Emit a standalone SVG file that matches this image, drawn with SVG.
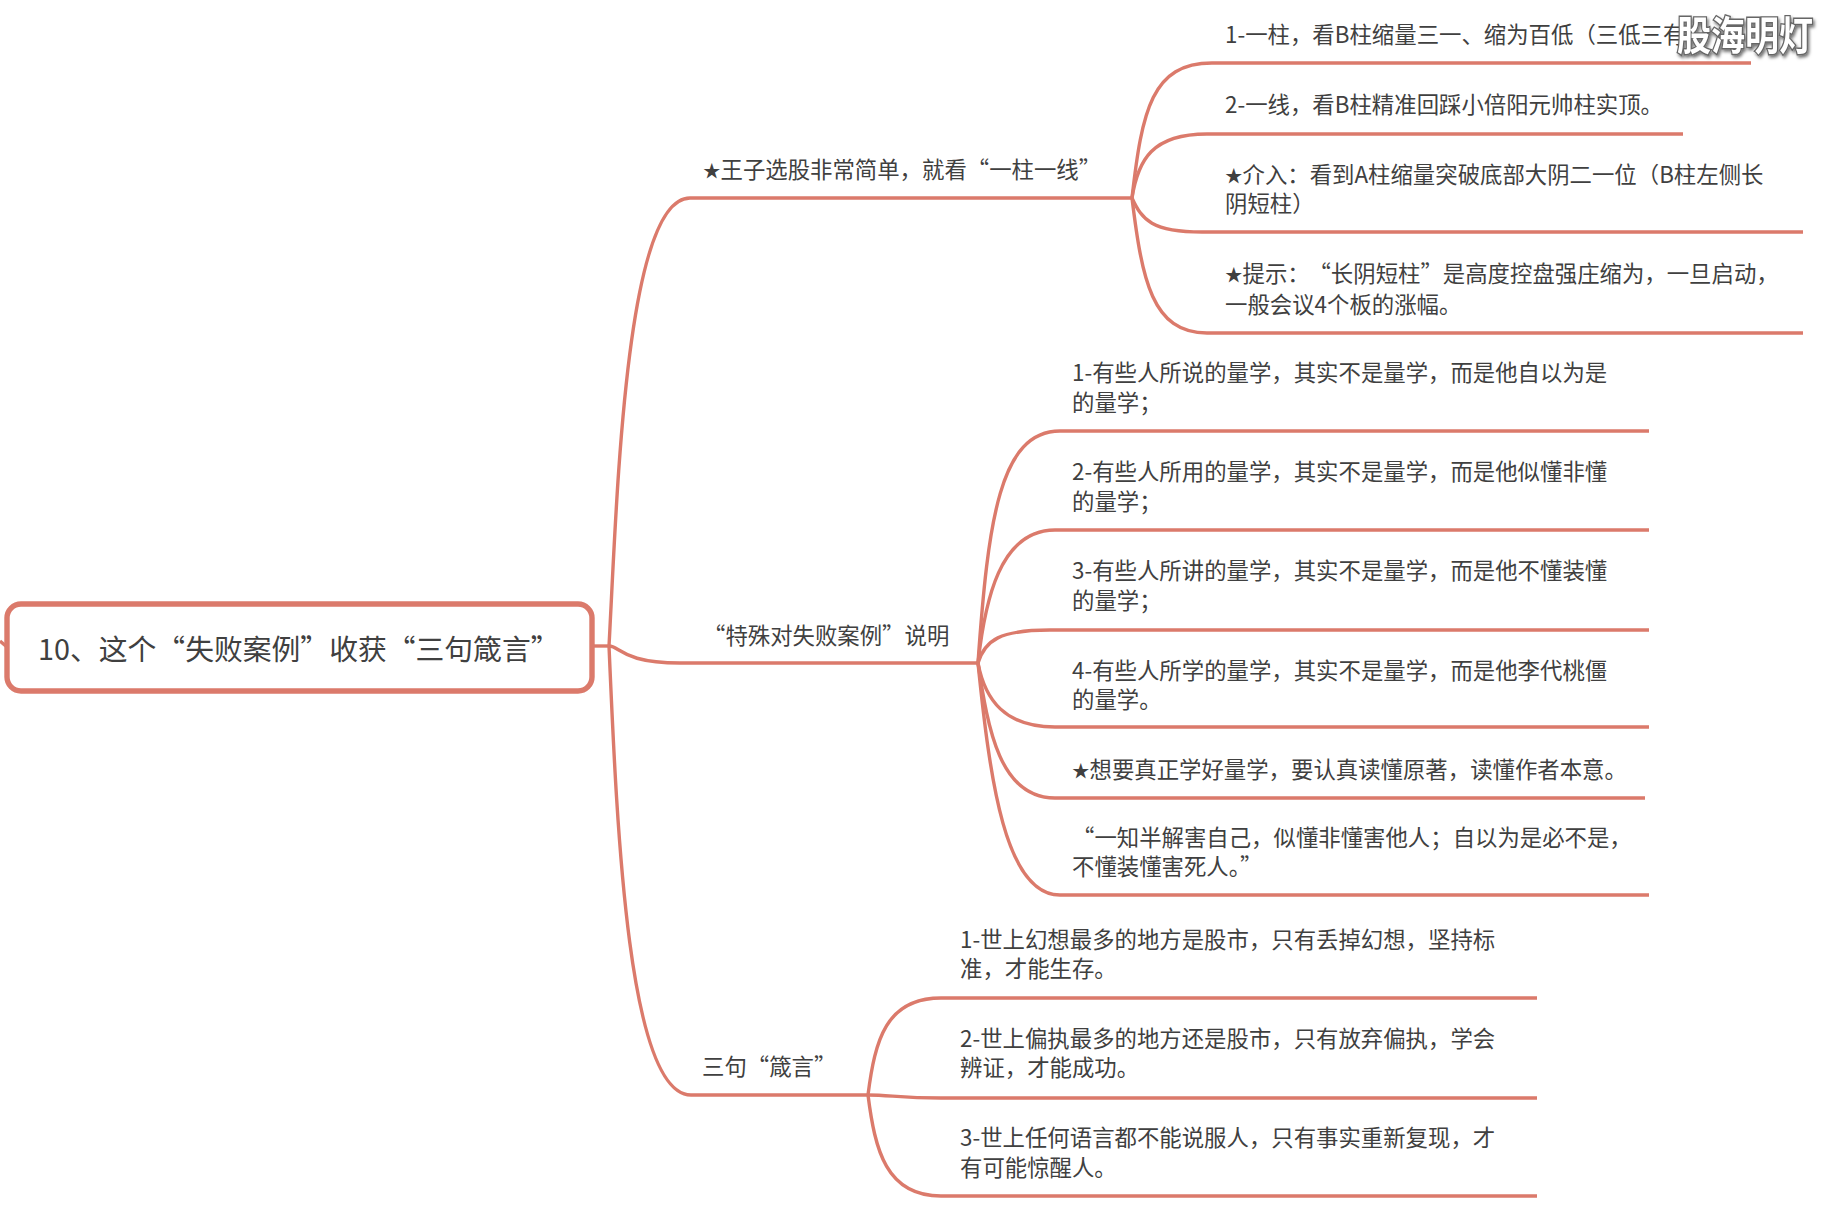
<svg xmlns="http://www.w3.org/2000/svg" width="1827" height="1213" viewBox="0 0 1827 1213">
<defs>
<style>
text{font-family:"Noto Sans CJK SC","Noto Sans",sans-serif;fill:#404040;font-size:22.4px}
.root-t{font-size:28.8px}
.s{font-size:17.5px}
.c{fill:none;stroke:#db7a6b;stroke-width:3.4;stroke-linecap:butt}
.wm{font-size:34px;font-weight:700;fill:#fff;stroke:#666;stroke-width:2.4;paint-order:stroke}
</style>
<filter id="sh" x="-10%" y="-20%" width="120%" height="140%"><feDropShadow dx="1.5" dy="2" stdDeviation="1.5" flood-color="#000" flood-opacity=".55"/></filter>
</defs>
<rect width="1827" height="1213" fill="#fff"/>
<g id="connectors">
<path class="c" d="M0 641 L7 647"/>
<path class="c" d="M592 646 H609"/>
<path class="c" d="M609 646 C617 500 625 198 690 198 H1132"/>
<path class="c" d="M609 646 C620 646 622 663 680 663 H978"/>
<path class="c" d="M609 646 C617 830 628 1095 691 1095 H868"/>
<path class="c" d="M1132 198 C1142 110 1152 63 1212 63 H1751"/>
<path class="c" d="M1132 198 C1138 160 1152 134 1207 134 H1683"/>
<path class="c" d="M1132 198 C1142 220 1152 232 1202 232 H1803"/>
<path class="c" d="M1132 198 C1142 280 1152 333 1207 333 H1803"/>
<path class="c" d="M978 663 C988 520 1000 431 1060 431 H1649"/>
<path class="c" d="M978 663 C985 600 1000 530 1055 530 H1649"/>
<path class="c" d="M978 663 C985 640 1000 630 1050 630 H1649"/>
<path class="c" d="M978 663 C985 700 1005 727 1055 727 H1649"/>
<path class="c" d="M978 663 C988 730 1000 798 1055 798 H1645"/>
<path class="c" d="M978 663 C990 780 1005 895 1060 895 H1649"/>
<path class="c" d="M868 1095 C875 1040 886 998 941 998 H1537"/>
<path class="c" d="M868 1095 C890 1095 900 1098 941 1098 H1537"/>
<path class="c" d="M868 1095 C875 1150 886 1196 941 1196 H1537"/>
</g>
<g id="root"><rect x="7" y="604" width="585" height="87" rx="14" fill="#fff" stroke="#db7a6b" stroke-width="5.4"/><text class="root-t" x="38" y="660">10、这个“失败案例”收获“三句箴言”</text></g>
<g id="b1"><text x="703" y="178"><tspan class="s" dy="-1">★</tspan><tspan dy="1">王子选股非常简单，就看“一柱一线”</tspan></text></g>
<g id="b1-1"><text x="1225" y="43">1-一柱，看B柱缩量三一、缩为百低（三低三有）</text></g>
<g id="b1-2"><text x="1225" y="113">2-一线，看B柱精准回踩小倍阳元帅柱实顶。</text></g>
<g id="b1-3"><text x="1225" y="183"><tspan class="s" dy="-1">★</tspan><tspan dy="1">介入：看到A柱缩量突破底部大阴二一位（B柱左侧长</tspan></text><text x="1225" y="212">阴短柱）</text></g>
<g id="b1-4"><text x="1225" y="282"><tspan class="s" dy="-1">★</tspan><tspan dy="1">提示：</tspan><tspan dx="10">“长阴短柱”是高度控盘强庄缩为，一旦启动，</tspan></text><text x="1225" y="313">一般会议4个板的涨幅。</text></g>
<g id="b2"><text x="703" y="644">“特殊对失败案例”说明</text></g>
<g id="b2-1"><text x="1072" y="381">1-有些人所说的量学，其实不是量学，而是他自以为是</text><text x="1072" y="411">的量学；</text></g>
<g id="b2-2"><text x="1072" y="480">2-有些人所用的量学，其实不是量学，而是他似懂非懂</text><text x="1072" y="510">的量学；</text></g>
<g id="b2-3"><text x="1072" y="579">3-有些人所讲的量学，其实不是量学，而是他不懂装懂</text><text x="1072" y="609">的量学；</text></g>
<g id="b2-4"><text x="1072" y="679">4-有些人所学的量学，其实不是量学，而是他李代桃僵</text><text x="1072" y="708">的量学。</text></g>
<g id="b2-5"><text x="1072" y="778"><tspan class="s" dy="-1">★</tspan><tspan dy="1">想要真正学好量学，要认真读懂原著，读懂作者本意。</tspan></text></g>
<g id="b2-6"><text x="1072" y="846">“一知半解害自己，似懂非懂害他人；自以为是必不是，</text><text x="1072" y="875">不懂装懂害死人。”</text></g>
<g id="b3"><text x="702" y="1075">三句“箴言”</text></g>
<g id="b3-1"><text x="960" y="948">1-世上幻想最多的地方是股市，只有丢掉幻想，坚持标</text><text x="960" y="977">准，才能生存。</text></g>
<g id="b3-2"><text x="960" y="1047">2-世上偏执最多的地方还是股市，只有放弃偏执，学会</text><text x="960" y="1076">辨证，才能成功。</text></g>
<g id="b3-3"><text x="960" y="1146">3-世上任何语言都不能说服人，只有事实重新复现，才</text><text x="960" y="1176">有可能惊醒人。</text></g>
<text class="wm" transform="translate(1677 50) scale(1 1.18)" filter="url(#sh)">股海明灯</text>
</svg>
